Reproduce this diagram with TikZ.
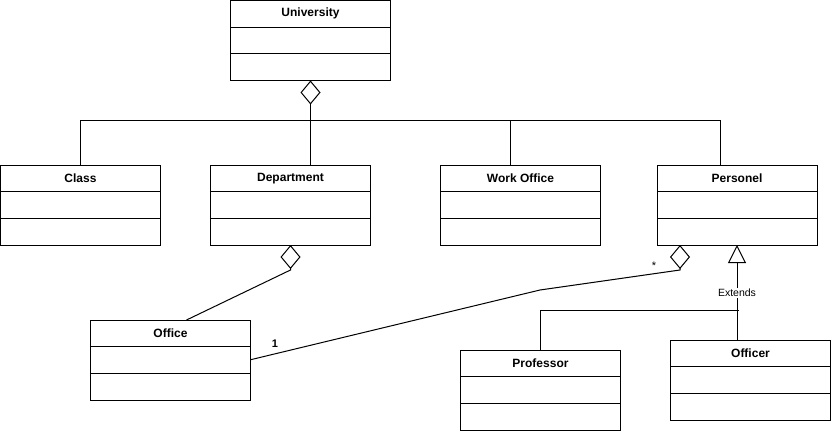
\documentclass[tikz,border=0pt]{standalone}
\usepackage{fontspec}
\setmainfont{Liberation Sans}
\usetikzlibrary{positioning,arrows.meta}

\tikzset{
  cell/.style={draw, line width=1pt, minimum width=160pt, inner sep=0pt, outer sep=0pt},
  head/.style={cell, minimum height=26.5pt, font=\bfseries\fontsize{12}{14}\selectfont},
  agg/.style={{Diamond[open,length=24pt,width=20pt]}-},
  gen/.style={{Triangle[open,length=18pt,width=18pt]}-},
  mult/.style={font=\fontsize{11}{13}\selectfont, inner sep=0pt}
}

\begin{document}
\begin{tikzpicture}[x=1pt, y=-1pt, line width=1pt]
  \useasboundingbox (0,0) rectangle (831,431);

  % Classes (name / x / y of title / title)
  \foreach \name/\cx/\cy/\title in {univ/310.5/13.75/University, class/80.5/178.25/Class,
      dept/290.5/178.25/Department, work/520.5/178.25/Work Office, pers/737/178.25/Personel,
      office/170.5/333.25/Office, prof/540.5/363.25/Professor, officer/750.5/353.25/Officer} {
    \node[head] (\name) at (\cx,\cy) {\title};
    \node[cell, minimum height=26.5pt, below=0pt of \name] (\name-a) {};
    \node[cell, minimum height=27pt, below=0pt of \name-a] (\name-o) {};
  }

  % University aggregation
  \coordinate (hub) at (univ-o.south |- 0,120);
  \draw[agg] (univ-o.south) -- (hub);
  \draw (hub) -| (class.north);
  \draw (hub) -- (hub |- dept.north);
  \draw (hub) -| ([xshift=-10pt]work.north);
  \draw (hub) -| ([xshift=-17pt]pers.north);

  % Department has Office
  \draw[agg] (dept-o.south) -- ++(0,25) -- ([xshift=16pt]office.north);

  % Personel -- Office
  \coordinate (bend) at (540,290);
  \draw[agg] ([xshift=-57pt]pers-o.south) -- ++(0,25) -- (bend) -- (office-a.east);
  \node[mult] (many) at (654,266) {*};
  \node[mult, font=\bfseries\fontsize{11}{13}\selectfont] (one) at (275,344) {1};

  % Inheritance
  \coordinate (join) at (pers-o.south |- 0,310.5);
  \draw[gen] (pers-o.south) -- (pers-o.south |- officer.north);
  \draw (prof.north) |- ([xshift=2pt]join);
  \node[mult, fill=white, inner sep=1pt, font=\fontsize{10.5}{12}\selectfont] (ext) at (pers-o.south |- 0,293) {Extends};
\end{tikzpicture}
\end{document}
